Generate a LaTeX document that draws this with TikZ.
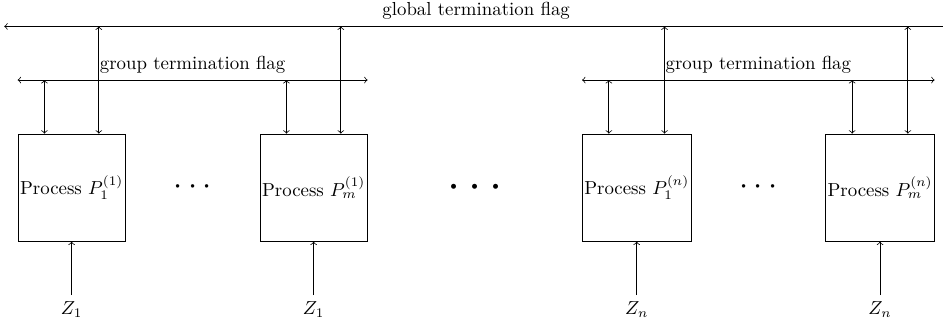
\documentclass[tikz,border=0pt]{standalone}
\usetikzlibrary{positioning}
\begin{document}
\begin{tikzpicture}[>=to,
        process/.style={draw, minimum width=2cm, minimum height=2cm, inner sep=1pt}]
    \useasboundingbox (0,0) rectangle (17.59,6.03);

    % Process boxes of the first and the last group
    \node[process] (p11) at (1.336,2.53) {Process $P_1^{(1)}$};
    \node[process, right=2.5cm of p11] (pm1) {Process $P_m^{(1)}$};
    \node[process, right=4cm of pm1] (p1n) {Process $P_1^{(n)}$};
    \node[process, right=2.5cm of p1n] (pmn) {Process $P_m^{(n)}$};

    % Dots between the boxes
    \path (p11) -- (pm1) node[midway] (dots1) {\LARGE $\cdots$};
    \path (pm1) -- (p1n) node[midway] (dotsall) {\Huge $\cdots$};
    \path (p1n) -- (pmn) node[midway] (dotsn) {\LARGE $\cdots$};

    % Global termination flag
    \coordinate (gl) at ([xshift=-0.25cm, yshift=2cm]p11.north west);
    \coordinate (gr) at ([xshift=0.25cm, yshift=2cm]pmn.north east);
    \draw[<->] (gl) -- (gr) node[midway, above] {global termination flag};

    % Group termination flags
    \coordinate (g1l) at ([yshift=1cm]p11.north west);
    \coordinate (g1r) at ([yshift=1cm]pm1.north east);
    \draw[<->] (g1l) -- (g1r) node[midway, above] {group termination flag};
    \coordinate (gnl) at ([yshift=1cm]p1n.north west);
    \coordinate (gnr) at ([yshift=1cm]pmn.north east);
    \draw[<->] (gnl) -- (gnr) node[midway, above] {group termination flag};

    % Each process talks to its group flag and to the global flag
    \foreach \p/\g in {p11/g1l, pm1/g1l, p1n/gnl, pmn/gnl} {
        \coordinate (\p-a) at ([xshift=0.5cm]\p.north west);
        \coordinate (\p-b) at ([xshift=-0.5cm]\p.north east);
        \draw[<->] (\p-a) -- (\p-a |- \g);
        \draw[<->] (\p-b) -- (\p-b |- gl);
    }

    % Inputs
    \node[below=1cm of p11] (z11) {$Z_1$};
    \node[below=1cm of pm1] (zm1) {$Z_1$};
    \node[below=1cm of p1n] (z1n) {$Z_n$};
    \node[below=1cm of pmn] (zmn) {$Z_n$};
    \draw[->] (z11) -- (p11);
    \draw[->] (zm1) -- (pm1);
    \draw[->] (z1n) -- (p1n);
    \draw[->] (zmn) -- (pmn);
\end{tikzpicture}
\end{document}
